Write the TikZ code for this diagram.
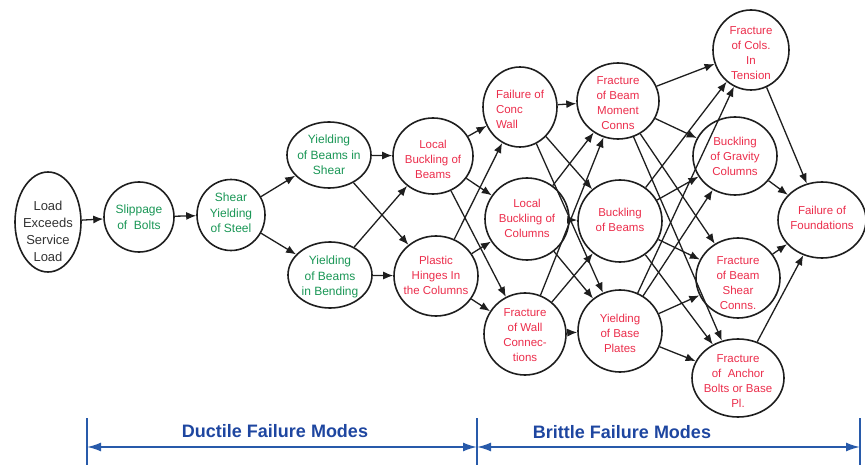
\documentclass[tikz,border=0pt]{standalone}
\usepackage{fontspec}
\setmainfont{Liberation Sans}
\usetikzlibrary{shapes.geometric,arrows.meta}
\definecolor{grn}{RGB}{25,150,85}
\definecolor{rd}{RGB}{235,45,75}
\definecolor{blu}{RGB}{40,90,170}
\definecolor{blt}{RGB}{30,70,160}
\definecolor{edg}{RGB}{30,30,30}
\begin{document}
\begin{tikzpicture}[x=1pt,y=-1pt,
  bub/.style 2 args={ellipse,draw=edg,line width=1.6pt,inner sep=0pt,minimum width=#1pt,minimum height=#2pt},
  gtxt/.style={text=grn,align=center,inner sep=0pt,font=\fontsize{12}{15.5}\selectfont},
  rtxt/.style={text=rd,align=center,inner sep=0pt,font=\fontsize{11.5}{15}\selectfont},
  rtxtl/.style={text=rd,align=left,inner sep=0pt,font=\fontsize{11.5}{15}\selectfont},
  ktxt/.style={text=black!80,align=center,inner sep=0pt,font=\fontsize{13}{17}\selectfont},
  arr/.style={-{Latex[length=10pt,width=8pt]},line width=1.3pt,draw=edg},
  barr/.style={{Latex[length=14pt,width=9pt]}-{Latex[length=14pt,width=9pt]},line width=1.8pt,draw=blu},
  vline/.style={line width=1.1pt,draw=blu},
  btxt/.style={text=blt,inner sep=0pt,font=\fontsize{18}{21}\selectfont\bfseries}]
\useasboundingbox (0,0) rectangle (865,465);

% nodes
\node[bub={66}{100}] (load) at (48,222) {};
\node[ktxt] (loadt) at (48,231) {Load\\Exceeds\\Service\\Load};
\node[bub={70}{70}] (slip) at (139,217) {};
\node[gtxt] (slipt) at (139,217) {Slippage\\of~~Bolts};
\node[bub={68}{71}] (shear) at (231,215) {};
\node[gtxt] (sheart) at (231,213) {Shear\\Yielding\\of Steel};
\node[bub={84}{66}] (ybs) at (329,155) {};
\node[gtxt] (ybst) at (329,155) {Yielding\\of Beams in\\Shear};
\node[bub={84}{66}] (ybb) at (330,275) {};
\node[gtxt] (ybbt) at (330,277) {Yielding\\of Beams\\in Bending};
\node[bub={80}{76}] (lbb) at (433,156) {};
\node[rtxt] (lbbt) at (433,159) {Local\\Buckling of\\Beams};
\node[bub={84}{80}] (phc) at (436,276) {};
\node[rtxt] (phct) at (436,275) {Plastic\\Hinges In\\the Columns};
\node[bub={74}{80}] (fcw) at (520,107) {};
\node[rtxtl] (fcwt) at (520,109) {Failure of\\Conc\\Wall};
\node[bub={84}{82}] (lbc) at (527,219) {};
\node[rtxt] (lbct) at (527,218) {Local\\Buckling of\\Columns};
\node[bub={82}{82}] (fwc) at (525,334) {};
\node[rtxt] (fwct) at (525,335) {Fracture\\of Wall\\Connec-\\tions};
\node[bub={82}{76}] (fbm) at (618,101) {};
\node[rtxt] (fbmt) at (618,103) {Fracture\\of Beam\\Moment\\Conns};
\node[bub={84}{82}] (bb) at (620,221) {};
\node[rtxt] (bbt) at (620,220) {Buckling\\of Beams};
\node[bub={84}{82}] (ybp) at (620,331) {};
\node[rtxt] (ybpt) at (620,333) {Yielding\\of Base\\Plates};
\node[bub={76}{80}] (fct) at (751,50) {};
\node[rtxt] (fctt) at (751,53) {Fracture\\of Cols.\\In\\Tension};
\node[bub={84}{78}] (bgc) at (735,156) {};
\node[rtxt] (bgct) at (735,156) {Buckling\\of Gravity\\Columns};
\node[bub={84}{80}] (fbs) at (738,278) {};
\node[rtxt] (fbst) at (738,283) {Fracture\\of Beam\\Shear\\Conns.};
\node[bub={92}{78}] (fab) at (738,378) {};
\node[rtxt] (fabt) at (738,381) {Fracture\\of~ Anchor\\Bolts or Base\\Pl.};
\node[bub={88}{76}] (ff) at (822,220) {};
\node[rtxt] (fft) at (822,218) {Failure of\\Foundations};

% edges
\foreach \a/\b in {load/slip,slip/shear,shear/ybs,shear/ybb,
  ybs/lbb,ybs/phc,ybb/lbb,ybb/phc,
  lbb/fcw,lbb/lbc,lbb/fwc,phc/fcw,phc/lbc,phc/fwc,
  fcw/fbm,fcw/bb,fcw/ybp,lbc/fbm,lbc/bb,lbc/ybp,fwc/fbm,fwc/bb,fwc/ybp,
  fbm/fct,fbm/bgc,fbm/fbs,fbm/fab,bb/fct,bb/bgc,bb/fbs,bb/fab,
  ybp/fct,ybp/bgc,ybp/fbs,ybp/fab,
  fct/ff,bgc/ff,fbs/ff,fab/ff}
  \draw[arr] (\a) -- (\b);

% bottom bar
\coordinate (l1) at (87,418); \coordinate (l2) at (87,465);
\coordinate (m1) at (477,418); \coordinate (m2) at (477,465);
\coordinate (r1) at (860,418); \coordinate (r2) at (860,465);
\coordinate (la) at (87,447); \coordinate (ma) at (477,447); \coordinate (ra) at (860,447);
\draw[vline] (l1) -- (l2);
\draw[vline] (m1) -- (m2);
\draw[vline] (r1) -- (r2);
\draw[barr] (la) -- (ma);
\draw[barr] (ma) -- (ra);
\node[btxt] (duct) at (275,431) {Ductile Failure Modes};
\node[btxt] (brit) at (622,432) {Brittle Failure Modes};
\end{tikzpicture}
\end{document}
